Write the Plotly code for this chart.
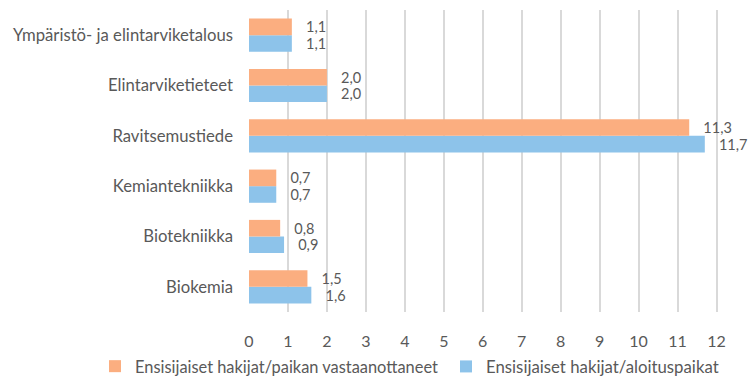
import plotly.graph_objects as go

categories = ["Biokemia", "Biotekniikka", "Kemiantekniikka", "Ravitsemustiede",
              "Elintarviketieteet", "Ympäristö- ja elintarviketalous"]
aloituspaikat = [1.6, 0.9, 0.7, 11.7, 2.0, 1.1]
vastaanottaneet = [1.5, 0.8, 0.7, 11.3, 2.0, 1.1]
series_names = ["Ensisijaiset hakijat/aloituspaikat",
                "Ensisijaiset hakijat/paikan vastaanottaneet"]
x_ticks = list(range(0, 13))

grey = "#595959"
font = "Lato"

fig = go.Figure()
fig.add_trace(go.Bar(
    y=categories, x=aloituspaikat, orientation="h", name=series_names[0],
    marker=dict(color="#8DC3EA", line=dict(width=0)),
    texttemplate="\u00a0\u00a0\u00a0%{x:.1f}", textposition="outside",
    constraintext="none",
    textfont=dict(color=grey, size=14.5, family=font), cliponaxis=False,
    legend="legend2",
))
fig.add_trace(go.Bar(
    y=categories, x=vastaanottaneet, orientation="h", name=series_names[1],
    marker=dict(color="#FBAE80", line=dict(width=0)),
    texttemplate="\u00a0\u00a0\u00a0%{x:.1f}", textposition="outside",
    constraintext="none",
    textfont=dict(color=grey, size=14.5, family=font), cliponaxis=False,
    legend="legend",
))

legend_common = dict(orientation="h", xanchor="left", yanchor="top",
                     xref="container", yref="container",
                     itemclick=False, bgcolor="rgba(0,0,0,0)")

fig.update_layout(
    width=750, height=382,
    margin=dict(l=249, r=0, t=10, b=70, autoexpand=False),
    paper_bgcolor="white", plot_bgcolor="white",
    barmode="group", bargap=0.34, bargroupgap=0,
    separators=", ",
    font=dict(family=font, size=16, color=grey),
    showlegend=True,
    legend=dict(x=95 / 750, y=1 - 349 / 382,
                font=dict(size=16.4, color=grey, family=font), **legend_common),
    legend2=dict(x=446 / 750, y=1 - 349 / 382,
                 font=dict(size=16.8, color=grey, family=font), **legend_common),
    xaxis=dict(range=[0, 12.86], tickvals=x_ticks, showgrid=True,
               gridcolor="#D9D9D9", gridwidth=1.5, zeroline=False,
               showline=False, ticks="", ticklabelstandoff=18,
               automargin=False,
               tickfont=dict(size=16, color=grey, family=font)),
    yaxis=dict(showgrid=False, zeroline=False, showline=False, ticks="",
               ticklabelstandoff=15, automargin=False,
               tickfont=dict(size=16.7, color=grey, family=font)),
)

fig.write_html("out.html", config={"displayModeBar": False},
               post_script="document.body.style.margin='0';document.body.style.overflow='hidden';")
